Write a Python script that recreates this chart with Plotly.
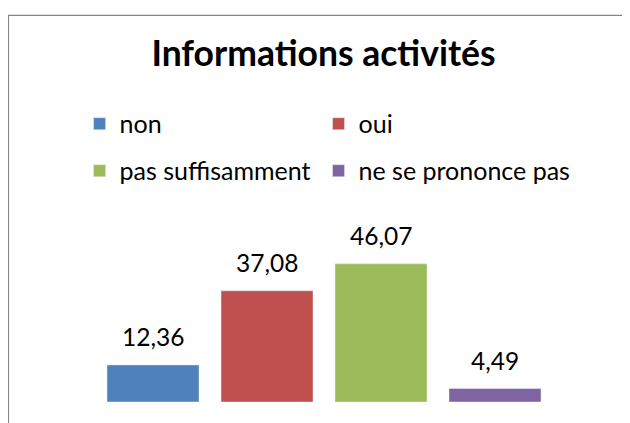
import plotly.graph_objects as go

# Data
categories = ['non', 'oui', 'pas suffisamment', 'ne se prononce pas']
values = [12.36, 37.08, 46.07, 4.49]
colors = ['#4F81BD', '#C0504D', '#9BBB59', '#8064A2']
title_text = 'Informations activités'

FONT = 'Lato'
W, H = 622, 415  # page adds an 8px body margin

fig = go.Figure()

# one trace per category so each gets its own legend entry;
# legend columns: non / pas suffisamment on the left, oui / ne se prononce pas on the right
for i, (cat, val, col) in enumerate(zip(categories, values, colors)):
    fig.add_trace(go.Bar(
        x=[cat], y=[val], name=cat,
        marker_color=col,
        legend='legend' if i % 2 == 0 else 'legend2',
        legendgroup=cat,
        hoverinfo='skip',
    ))
    # data label above the bar, with comma decimal
    fig.add_annotation(
        x=cat, y=val, text=f'{val:.2f}'.replace('.', ','),
        showarrow=False, yanchor='middle', yshift=28,
        font=dict(family=FONT, size=24.5, color='#000000'),
    )

# chart border (cropped on right and bottom like the original)
fig.add_shape(type='rect', xref='paper', yref='paper',
              x0=-0.192, x1=1.5, y0=-0.5, y1=2.577,
              line=dict(color='#868686', width=1.25))

legend_common = dict(
    orientation='v', xanchor='left', yanchor='middle', y=1.697,
    traceorder='grouped', tracegroupgap=11.5,
    font=dict(family=FONT, size=25, color='#000000'),
    bgcolor='rgba(0,0,0,0)', itemclick=False, itemdoubleclick=False,
)

fig.update_layout(
    width=W, height=H,
    margin=dict(l=88, r=78, t=244, b=21),
    paper_bgcolor='white', plot_bgcolor='white',
    barmode='overlay', bargap=0.193,
    showlegend=True,
    title=dict(text=f'<b>{title_text}</b>', x=315.5 / W, xanchor='center',
               y=1 - 46 / H, yanchor='middle',
               font=dict(family=FONT, size=35.5, color='#000000')),
    legend=dict(x=-0.036, **legend_common),
    legend2=dict(x=0.488, **legend_common),
    xaxis=dict(visible=False, categoryorder='array', categoryarray=categories),
    yaxis=dict(visible=False, range=[0, 50]),
)

fig.write_html('out.html')
